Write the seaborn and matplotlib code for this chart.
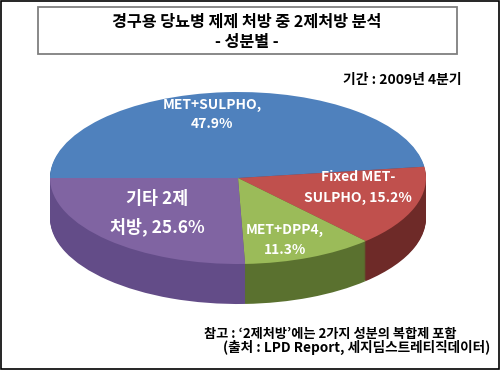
import matplotlib
matplotlib.use("Agg")
import matplotlib.pyplot as plt
import seaborn as sns
from matplotlib.patches import Rectangle

sns.set_theme(style="white")
plt.rcParams['font.family'] = ['Noto Sans CJK KR', 'DejaVu Sans']

# ---- data ----
categories = ["MET+SULPHO", "Fixed MET-SULPHO", "MET+DPP4", "기타 2제 처방"]
values = [47.9, 15.2, 11.3, 25.6]
label_line1 = ["MET+SULPHO,", "Fixed MET-", "MET+DPP4,", "기타 2제"]
label_line2 = ["", "SULPHO, ", "", "처방, "]
top_colors = ["#4F81BD", "#C0504D", "#9BBB59", "#8064A2"]
side_colors = ["#2F5585", "#6E2A28", "#5A712F", "#634C88"]
title_lines = ["경구용 당뇨병 제제 처방 중 2제처방 분석", "- 성분별 -"]
period_text = "기간 : 2009년 4분기"
note_lines = ["참고 : \u20182제처방\u2019에는 2가지 성분의 복합제 포함",
              "(출처 : LPD Report, 세지딤스트레티직데이터)"]

W, H = 500, 370
fig = plt.figure(figsize=(W / 100, H / 100), dpi=100)
fig.patch.set_facecolor("white")

def fx(x):
    return x / W

def fy(y):
    return 1 - y / H

# pie ellipse geometry in pixels
left, right = 50, 426
top, bottom = 92, 264
depth = 40
ax = fig.add_axes([fx(left), fy(bottom + depth), (right - left) / W, (bottom + depth - top) / H])
ax.set_axis_off()
b_px = (bottom - top) / 2
d = depth / b_px

N = 40
for k in range(N, 0, -1):
    s = d * k / N
    ax.pie(values, colors=side_colors, startangle=180, counterclock=False,
           center=(0, -s), radius=1, normalize=True,
           wedgeprops=dict(linewidth=0))
ax.pie(values, colors=top_colors, startangle=180, counterclock=False,
       center=(0, 0), radius=1, normalize=True,
       wedgeprops=dict(linewidth=0))
ax.set_aspect('auto')
ax.set_xlim(-1, 1)
ax.set_ylim(-1 - d, 1)

# slice labels
lab_pos = [((212, 105), (212, 124), 10),
           ((358, 177), (358, 198), 10),
           ((285, 230), (285, 250), 10),
           ((157, 199), (157, 227), 12.5)]
for i, ((p1, p2, fs)) in enumerate(lab_pos):
    line2 = f"{label_line2[i]}{values[i]}%"
    fig.text(fx(p1[0]), fy(p1[1]), label_line1[i], ha="center", va="center",
             color="white", fontsize=fs, fontweight="bold")
    fig.text(fx(p2[0]), fy(p2[1]), line2, ha="center", va="center",
             color="white", fontsize=fs, fontweight="bold")

# title box
fig.patches.append(Rectangle((fx(38), fy(54)), (457 - 38) / W, (54 - 7) / H,
                             transform=fig.transFigure, fill=False,
                             edgecolor="#7f7f7f", linewidth=1.3))
fig.text(fx(247), fy(22), title_lines[0], ha="center", va="center",
         fontsize=11.7, fontweight="bold", color="black")
fig.text(fx(247), fy(42), title_lines[1], ha="center", va="center",
         fontsize=11.7, fontweight="bold", color="black")

fig.text(fx(462), fy(80), period_text, ha="right", va="center",
         fontsize=10, fontweight="bold", color="black")

fig.text(fx(204), fy(334), note_lines[0], ha="left", va="center",
         fontsize=9.5, fontweight="bold", color="black")
fig.text(fx(490), fy(347), note_lines[1], ha="right", va="center",
         fontsize=9.8, fontweight="bold", color="black")

# outer border
fig.patches.append(Rectangle((0.002, 0.003), 0.995, 0.994, transform=fig.transFigure,
                             fill=False, edgecolor="black", linewidth=1.2))

fig.savefig("out.png", dpi=100)
